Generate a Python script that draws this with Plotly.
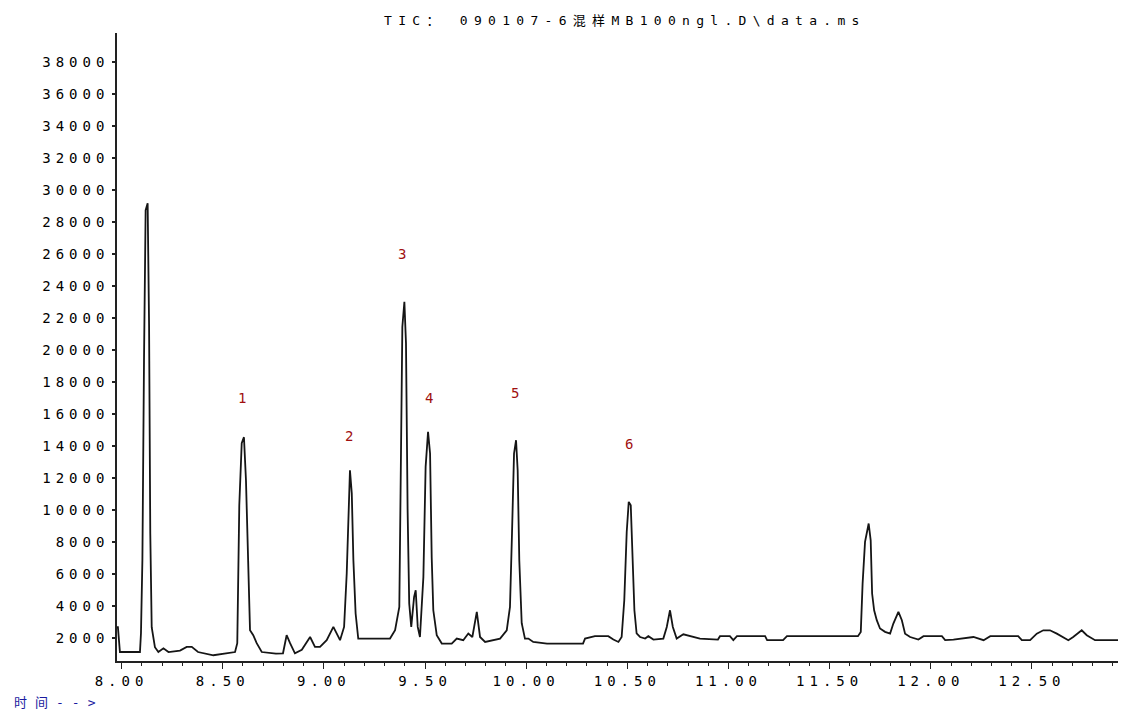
import plotly.graph_objects as go

# Retention time (min) and TIC abundance
time_min = [
    7.977, 7.982, 7.992, 8.091, 8.096, 8.103, 8.111, 8.119, 8.129, 8.136,
    8.142, 8.149, 8.165, 8.182, 8.207, 8.232, 8.289, 8.322, 8.347, 8.378,
    8.454, 8.561, 8.572, 8.582, 8.594, 8.605, 8.615, 8.625, 8.635, 8.651,
    8.668, 8.693, 8.763, 8.798, 8.816, 8.833, 8.857, 8.891, 8.932, 8.956,
    8.981, 9.014, 9.047, 9.080, 9.100, 9.113, 9.123, 9.129, 9.138, 9.146,
    9.157, 9.170, 9.327, 9.352, 9.373, 9.380, 9.388, 9.398, 9.406, 9.414,
    9.422, 9.432, 9.446, 9.454, 9.464, 9.475, 9.492, 9.503, 9.515, 9.525,
    9.533, 9.541, 9.558, 9.583, 9.632, 9.657, 9.689, 9.714, 9.734, 9.756,
    9.772, 9.797, 9.871, 9.904, 9.920, 9.930, 9.940, 9.950, 9.958, 9.966,
    9.978, 9.994, 10.011, 10.035, 10.103, 10.281, 10.291, 10.340, 10.406, 10.431,
    10.456, 10.472, 10.485, 10.497, 10.507, 10.517, 10.527, 10.535, 10.546, 10.563,
    10.588, 10.604, 10.629, 10.678, 10.695, 10.711, 10.725, 10.744, 10.777, 10.810,
    10.859, 10.948, 10.958, 11.007, 11.024, 11.042, 11.181, 11.191, 11.270, 11.289,
    11.640, 11.654, 11.663, 11.675, 11.683, 11.693, 11.703, 11.710, 11.720, 11.733,
    11.749, 11.774, 11.799, 11.815, 11.840, 11.857, 11.873, 11.898, 11.939, 11.964,
    12.055, 12.071, 12.112, 12.211, 12.261, 12.294, 12.432, 12.450, 12.491, 12.524,
    12.556, 12.589, 12.623, 12.655, 12.680, 12.704, 12.746, 12.771, 12.812, 12.965,
]
abundance = [
    2660, 2660, 1110, 1110, 2280, 6850, 19370, 28750, 29180, 21560,
    8540, 2660, 1410, 1110, 1340, 1110, 1200, 1430, 1430, 1110,
    907, 1110, 1660, 10290, 14170, 14550, 11860, 6230, 2470, 2160,
    1660, 1110, 1010, 1030, 2160, 1660, 1030, 1250, 2050, 1430,
    1430, 1850, 2680, 1850, 2680, 6020, 11230, 12480, 11040, 6850,
    3520, 1950, 1950, 2470, 3930, 10810, 21450, 23020, 20410, 9980,
    4140, 2680, 4560, 4970, 2680, 2050, 5810, 12690, 14880, 13530,
    7060, 3720, 2160, 1640, 1640, 1950, 1850, 2270, 2050, 3620,
    2050, 1740, 1950, 2470, 3930, 8520, 13530, 14360, 12480, 6850,
    2910, 1950, 1950, 1740, 1640, 1640, 1950, 2100, 2100, 1890,
    1740, 2050, 4350, 8620, 10500, 10290, 6850, 3720, 2270, 2050,
    1950, 2100, 1890, 1950, 2680, 3720, 2680, 1950, 2220, 2100,
    1950, 1890, 2100, 2100, 1850, 2100, 2100, 1850, 1850, 2100,
    2100, 2370, 5390, 8000, 8620, 9150, 8100, 4770, 3720, 3100,
    2580, 2370, 2260, 2890, 3620, 3100, 2260, 2050, 1890, 2100,
    2100, 1850, 1890, 2050, 1850, 2100, 2100, 1850, 1850, 2260,
    2470, 2470, 2260, 2050, 1850, 2050, 2470, 2160, 1850, 1850,
]

# Peak number labels
peak_labels = ["1", "2", "3", "4", "5", "6"]
peak_label_time = [8.596, 9.124, 9.386, 9.519, 9.946, 10.508]
peak_label_value = [16990, 14610, 26000, 16990, 17300, 14110]

# Axis ticks
y_tickvals = list(range(2000, 38001, 2000))
y_ticklabels = [str(v) for v in y_tickvals]
x_tickvals = [8.0, 8.5, 9.0, 9.5, 10.0, 10.5, 11.0, 11.5, 12.0, 12.5]
x_ticklabels = ["8.00", "8.50", "9.00", "9.50", "10.00", "10.50", "11.00", "11.50", "12.00", "12.50"]

title_text = "TIC： 090107-6混样MB100ngl.D\\data.ms"
x_caption = "时间-->"

FONT = "DejaVu Sans Mono, Noto Sans CJK SC, monospace"


def spaced(s, px=5):
    return f'<span style="letter-spacing:{px}px">{s}</span>'


fig = go.Figure()
fig.add_trace(go.Scatter(
    x=time_min, y=abundance, mode="lines",
    line=dict(color="#151515", width=1.8),
    hoverinfo="x+y", showlegend=False,
))

for lab, t, v in zip(peak_labels, peak_label_time, peak_label_value):
    fig.add_annotation(x=t, y=v, text=lab, showarrow=False,
                       font=dict(family=FONT, size=14, color="#a01010"),
                       xanchor="center", yanchor="middle")

fig.add_annotation(xref="paper", yref="paper", x=0.5035, y=1.0207,
                   text=spaced(title_text, 6.3), showarrow=False,
                   font=dict(family=FONT, size=13, color="#000000"),
                   xanchor="center", yanchor="middle")

fig.add_annotation(xref="paper", yref="paper", x=-0.104, y=-0.066,
                   text=spaced(x_caption, 8), showarrow=False,
                   font=dict(family=FONT, size=13, color="#1a1aa0"),
                   xanchor="left", yanchor="middle")

fig.update_layout(
    width=1118, height=703, autosize=False,
    margin=dict(l=109, r=0, t=25, b=50),
    paper_bgcolor="white", plot_bgcolor="white",
    font=dict(family=FONT, size=14, color="#000000"),
    xaxis=dict(
        range=[7.9775, 12.965], showgrid=False, zeroline=False,
        showline=True, linecolor="#222222", linewidth=1.6,
        tickmode="array", tickvals=x_tickvals,
        ticktext=[spaced(t) for t in x_ticklabels],
        ticks="outside", ticklen=6, tickwidth=1.2, tickcolor="#222222",
        minor=dict(dtick=0.1, tick0=8.0, ticks="outside", ticklen=3,
                   tickwidth=1.2, tickcolor="#222222", showgrid=False),
        tickfont=dict(family=FONT, size=14, color="#000000"),
    ),
    yaxis=dict(
        range=[548, 39833], showgrid=False, zeroline=False,
        showline=True, linecolor="#222222", linewidth=1.6,
        tickmode="array", tickvals=y_tickvals,
        ticktext=[spaced(t) for t in y_ticklabels],
        ticks="outside", ticklen=3, tickwidth=1.5, tickcolor="#222222",
        tickfont=dict(family=FONT, size=14, color="#000000"),
    ),
)

fig.write_html("out.html")
